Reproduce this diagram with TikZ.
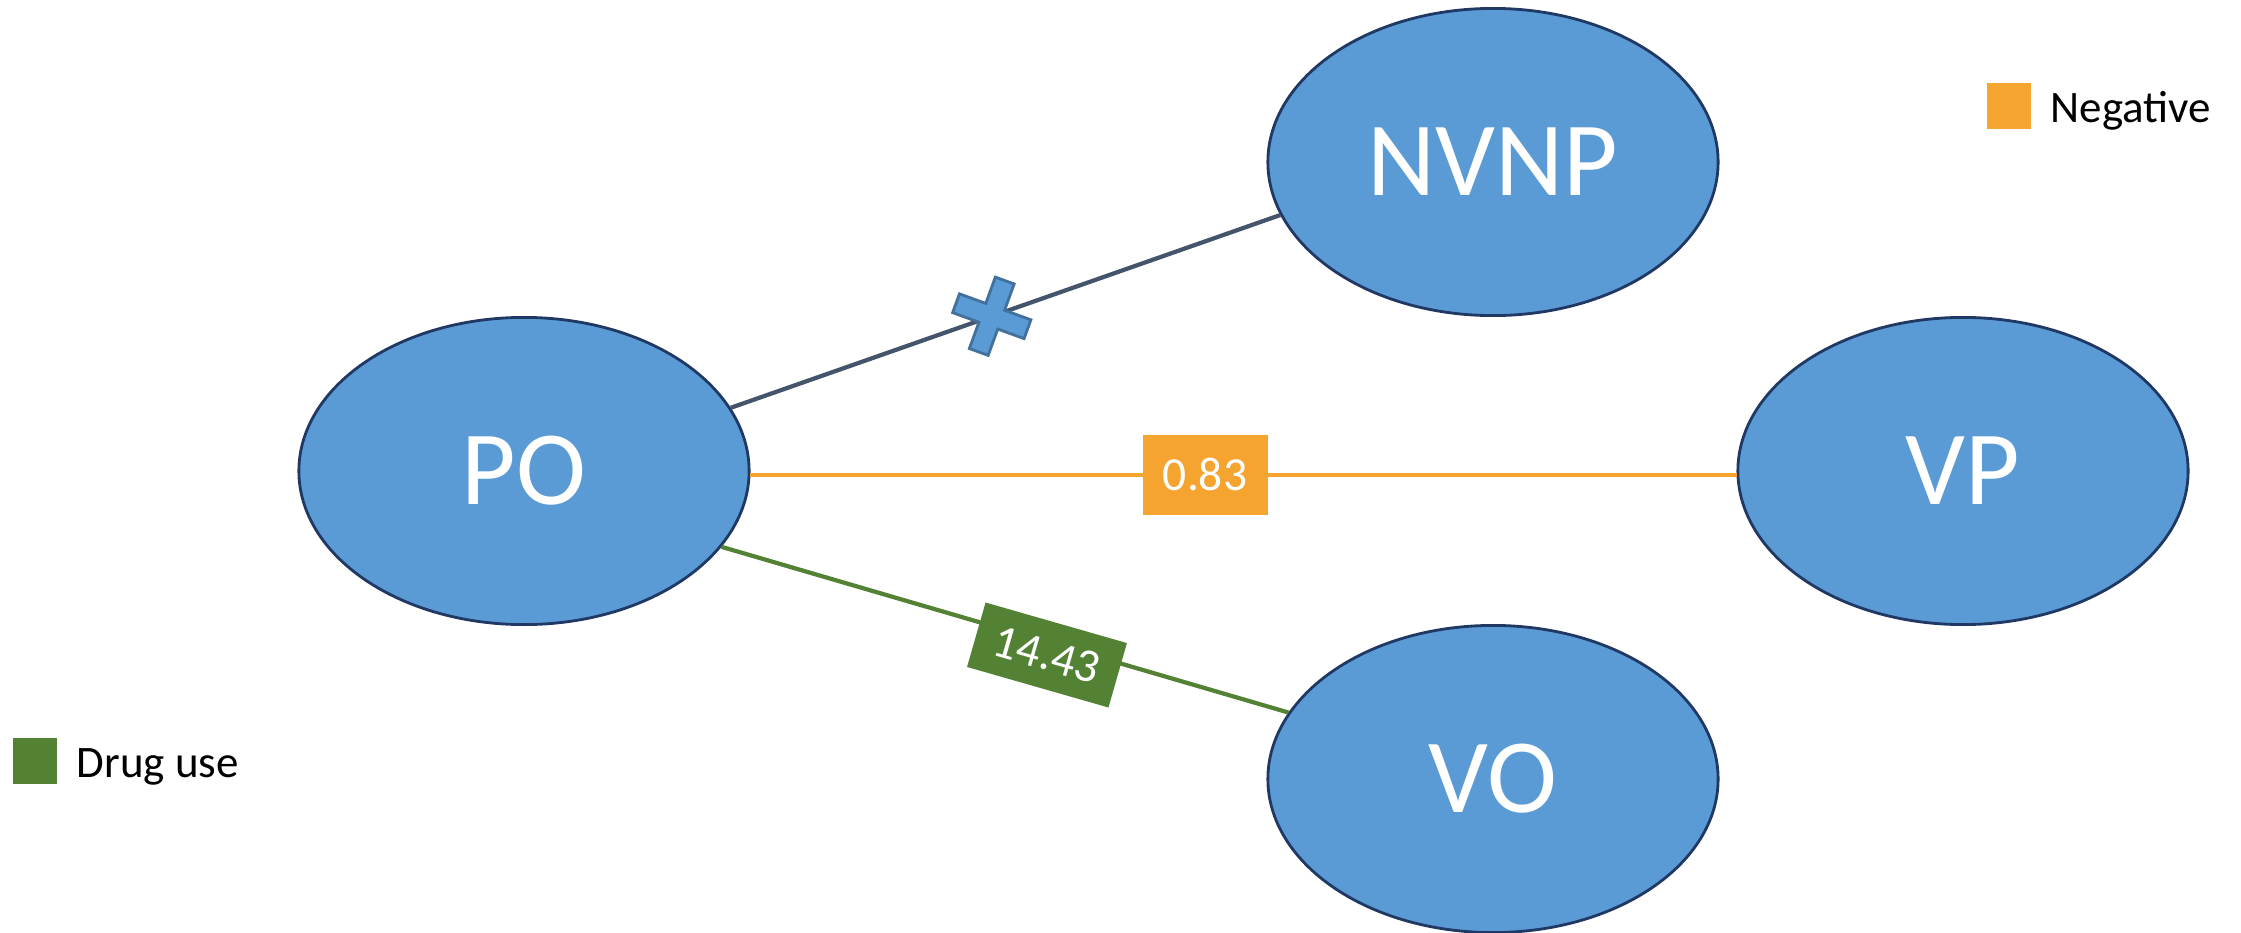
\documentclass[tikz,border=0pt]{standalone}
\usepackage{fontspec}
\setmainfont{Carlito}
\usepackage{tikz}
\usetikzlibrary{shapes.geometric}
\usepackage{xcolor}
\definecolor{nodeblue}{RGB}{91, 155, 213}
\definecolor{edgeblue}{RGB}{32, 56, 100}
\definecolor{crossedge}{RGB}{65, 113, 156}
\definecolor{slate}{RGB}{68, 84, 106}
\definecolor{negorange}{RGB}{245, 164, 48}
\definecolor{druggreen}{RGB}{84, 130, 53}

\begin{document}
\begin{tikzpicture}[x=0.01cm, y=-0.01cm,
		obj/.style={ellipse, draw=edgeblue, line width=0.8pt, fill=nodeblue,
			minimum width=4.5cm, minimum height=3.07cm, inner sep=0pt,
			text=white, font=\fontsize{30}{36}\selectfont},
		nolink/.style={slate, line width=1.2pt},
		neglink/.style={negorange, line width=1.2pt},
		druglink/.style={druggreen, line width=1.2pt},
		negbox/.style={fill=negorange, text=white, minimum width=1.25cm,
			minimum height=0.8cm, inner sep=0pt, font=\fontsize{13.5}{16}\selectfont},
		drugbox/.style={fill=druggreen, text=white, minimum width=1.47cm,
			minimum height=0.67cm, inner sep=0pt, font=\fontsize{13.5}{16}\selectfont},
		crossmark/.style={fill=nodeblue, draw=crossedge, line width=0.8pt},
		key/.style={minimum width=0.44cm, minimum height=0.46cm, inner sep=0pt},
		keytext/.style={anchor=base west, inner sep=0pt, font=\fontsize{12.8}{15}\selectfont}]
	
	\useasboundingbox (0,0) rectangle (2241,933);
	
	%--- objects ---
	\node[obj] (PO) at (524,471) {PO};
	\node[obj] (NVNP) at (1493,162) {NVNP};
	\node[obj] (VP) at (1963,471) {VP};
	\node[obj] (VO) at (1493,779) {VO};
	
	%--- links ---
	\draw[nolink] (PO.17) -- coordinate[pos=0.475] (cx) (NVNP.-166);
	\draw[neglink] (PO.-1) -- node[negbox, pos=0.461] (w1) {0.83} (VP.181);
	\draw[druglink] (PO.-21) -- (VO.162);
	\node[drugbox, rotate=-16] (w2) at (1047,655) {14.43};
	
	%--- cross on the PO--NVNP link ---
	\begin{scope}[shift={(cx)}, rotate=-20]
		\draw[crossmark] (-10,-38) -- (10,-38) -- (10,-10) -- (38,-10) -- (38,10)
		-- (10,10) -- (10,38) -- (-10,38) -- (-10,10) -- (-38,10) -- (-38,-10)
		-- (-10,-10) -- cycle;
	\end{scope}
	
	%--- legend ---
	\node[key, fill=negorange] (negkey) at (2009,106) {};
	\node[keytext] (negtext) at (2050,122) {Negative};
	\node[key, fill=druggreen] (drugkey) at (35,761) {};
	\node[keytext] (drugtext) at (76,777) {Drug use};
\end{tikzpicture}
\end{document}
